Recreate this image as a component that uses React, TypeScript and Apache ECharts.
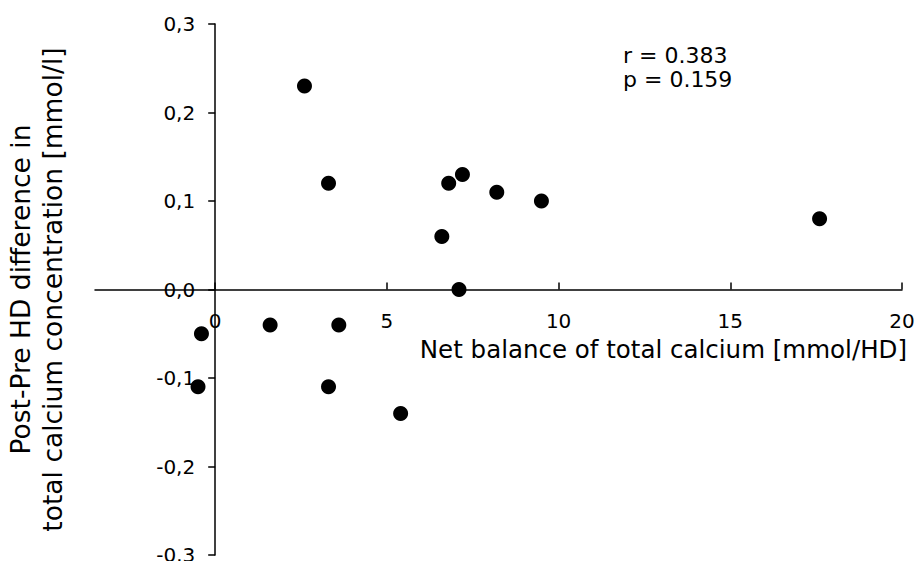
import React, { useEffect, useRef } from "react";
import * as echarts from "echarts";

const xValues = [-0.5, -0.4, 1.6, 3.6, 2.6, 3.3, 3.3, 5.4, 6.6, 6.8, 7.2, 7.1, 8.2, 9.5, 17.6];
const yValues = [-0.11, -0.05, -0.04, -0.04, 0.23, 0.12, -0.11, -0.14, 0.06, 0.12, 0.13, 0.0, 0.11, 0.1, 0.08];
const xTicks = [0, 5, 10, 15, 20];
const statsLines = ["r = 0.383", "p = 0.159"];
const xName = "Net balance of total calcium [mmol/HD]";
const yNameLines = ["Post-Pre HD difference in", "total calcium concentration [mmol/l]"];

const FONT = "'DejaVu Sans', sans-serif";

const W = 916;
const H = 561;
const GRID = { left: 95, right: 14, top: 24, bottom: 6 };
const X_MIN = -3.5;
const X_MAX = 20;
const Y_MIN = -0.3;
const Y_MAX = 0.3;

export default function App() {
  const ref = useRef<HTMLDivElement>(null);
  useEffect(() => {
    if (!ref.current) return;
    const chart = echarts.init(ref.current, undefined, { renderer: "svg" });
    const axisColor = "#000";
    const gw = W - GRID.left - GRID.right;
    const gh = H - GRID.top - GRID.bottom;
    // shift axes so that they cross at the origin
    const yAxisOffset = -((0 - X_MIN) / (X_MAX - X_MIN)) * gw;
    const xAxisOffset = -((0 - Y_MIN) / (Y_MAX - Y_MIN)) * gh;
    chart.setOption({
      animation: false,
      backgroundColor: "#fff",
      grid: { ...GRID, containLabel: false, outerBoundsMode: "none" },
      xAxis: {
        type: "value",
        position: "bottom",
        offset: xAxisOffset,
        min: X_MIN,
        max: X_MAX,
        axisLine: { onZero: false, lineStyle: { color: axisColor, width: 1.5 } },
        axisTick: { show: true, inside: true, length: 7, customValues: xTicks, lineStyle: { color: axisColor, width: 1.5 } },
        axisLabel: { customValues: xTicks, margin: 21, color: "#000", fontSize: 20, fontFamily: FONT },
        splitLine: { show: false },
        name: xName,
        nameLocation: "end",
        nameGap: 5,
        nameTextStyle: { align: "right", verticalAlign: "top", padding: [47, 0, 0, 0], color: "#000", fontSize: 24.5, fontFamily: FONT },
      },
      yAxis: {
        type: "value",
        position: "left",
        offset: yAxisOffset,
        min: Y_MIN,
        max: Y_MAX,
        interval: 0.1,
        axisLine: { onZero: false, lineStyle: { color: axisColor, width: 1.5 } },
        axisTick: { show: true, inside: false, length: 7, lineStyle: { color: axisColor, width: 1.5 } },
        axisLabel: {
          margin: 20,
          color: "#000",
          fontSize: 20,
          fontFamily: FONT,
          padding: [0, 0, 6, 0],
          formatter: (v: number) => (Math.round(v * 10) / 10).toFixed(1).replace(".", ","),
        },
        splitLine: { show: false },
        name: yNameLines.join("\n"),
        nameLocation: "middle",
        nameRotate: 90,
        nameGap: 147,
        nameTextStyle: { color: "#000", fontSize: 26.5, lineHeight: 32, fontFamily: FONT },
      },
      series: [
        {
          type: "scatter",
          data: xValues.map((x, i) => [x, yValues[i]]),
          symbol: "circle",
          symbolSize: 15,
          itemStyle: { color: "#000", opacity: 1 },
        },
      ],
      graphic: [
        {
          type: "text",
          left: 623,
          top: 43,
          style: { text: statsLines.join("\n"), fill: "#000", fontSize: 22, lineHeight: 24, fontFamily: FONT },
        },
      ],
    });
    return () => chart.dispose();
  }, []);
  return <div ref={ref} style={{ position: "absolute", left: 0, top: 0, width: W, height: H }} />;
}
